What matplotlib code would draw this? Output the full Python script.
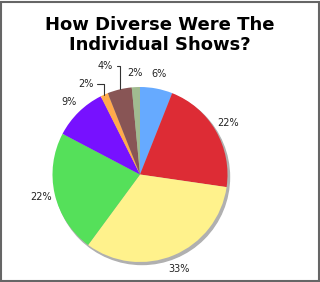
import numpy as np
import matplotlib
matplotlib.use("Agg")
import matplotlib.pyplot as plt
from matplotlib.patches import Rectangle, Circle

labels = ["6%", "22%", "33%", "22%", "9%", "2%", "4%", "2%"]
values = [6.0, 21.3, 32.8, 22.6, 9.9, 1.4, 4.5, 1.5]
colors = ["#66AAFF", "#DD2C35", "#FFF28C", "#55E05A", "#7711FF", "#FFAA4C", "#885555", "#A0BB90"]
title = "How Diverse Were The\nIndividual Shows?"

W, H = 320, 282
fig = plt.figure(figsize=(W / 100, H / 100), dpi=100)
ax = fig.add_axes([0, 0, 1, 1])
ax.set_xlim(0, W)
ax.set_ylim(0, H)
ax.set_aspect("equal")
ax.axis("off")

cx, cy, R = 140.0, H - 174.5, 87.5

# shadow
ax.add_patch(Circle((cx + 2, cy - 2.5), R, color="#b0b0b0", zorder=1))

wedges, _ = ax.pie(values, colors=colors, startangle=90, counterclock=False,
                   center=(cx, cy), radius=R, wedgeprops=dict(linewidth=0),
                   frame=True)
for w in wedges:
    w.set_zorder(2)
ax.set_xlim(0, W)
ax.set_ylim(0, H)
ax.axis("off")

leader = {5: (-11, 90.5), 6: (-7, 108.5)}
for i, (w, lab) in enumerate(zip(wedges, labels)):
    ang = np.deg2rad((w.theta1 + w.theta2) / 2)
    ex, ey = cx + R * np.cos(ang), cy + R * np.sin(ang)
    if i in leader:
        dxo, ly = leader[i]
        ax.annotate(lab, xy=(ex, ey), xytext=(ex + dxo, cy + ly),
                    ha="right", va="center", fontsize=7, color="#222222",
                    arrowprops=dict(arrowstyle="-", color="#333333", lw=0.8,
                                    shrinkA=1, shrinkB=0,
                                    connectionstyle="angle,angleA=0,angleB=90,rad=0"),
                    zorder=3)
    else:
        r = 102
        ax.text(cx + r * np.cos(ang), cy + r * np.sin(ang), lab,
                ha="center", va="center", fontsize=7, color="#222222", zorder=3)

fig.text(0.5, 1 - 35 / H, title, ha="center", va="center", fontsize=13,
         fontweight="bold", color="black", linespacing=1.1)

fig.patches.append(Rectangle((1 / W, 1 / H), (W - 2.5) / W, (H - 2.5) / H,
                             transform=fig.transFigure, fill=False,
                             edgecolor="#666666", linewidth=1.5))

fig.savefig("out.png", dpi=100)
